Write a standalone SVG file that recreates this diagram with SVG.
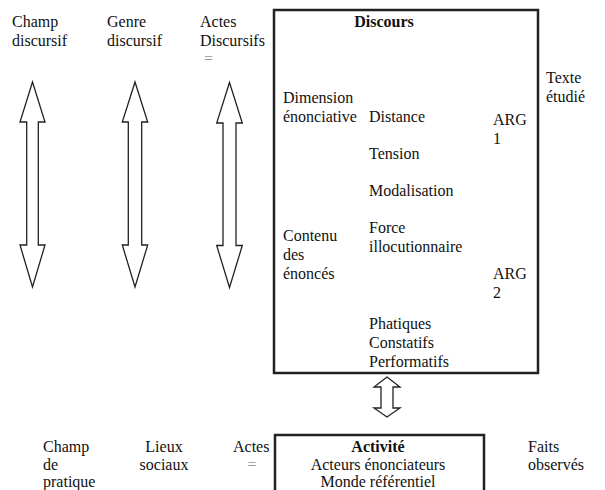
<svg xmlns="http://www.w3.org/2000/svg" width="605" height="490" viewBox="0 0 605 490" font-family="Liberation Serif, Times New Roman, serif" font-size="16">
<style>
text{fill:#111}
.b{font-weight:bold}
.m{text-anchor:middle}
.g{fill:#999}
.box{fill:none;stroke:#222;stroke-width:2.5}
.arr{fill:#fff;stroke:#222;stroke-width:1.3;stroke-linejoin:miter}
</style>
<rect width="605" height="490" fill="#fff"/>
<g id="labels-top">
<text x="12" y="27">Champ</text><text x="12" y="46">discursif</text>
<text x="107" y="27">Genre</text><text x="107" y="46">discursif</text>
<text x="200" y="27">Actes</text><text x="200" y="46">Discursifs</text><text x="204" y="64" class="g">=</text>
<text x="546" y="83">Texte</text><text x="546" y="102">étudié</text>
</g>
<g id="discours">
<rect class="box" x="274" y="10" width="264" height="363"/>
<text x="384" y="27" class="b m">Discours</text>
<text x="283" y="103">Dimension</text><text x="283" y="122">énonciative</text>
<text x="369" y="122">Distance</text>
<text x="493" y="125">ARG</text><text x="493" y="144">1</text>
<text x="369" y="159">Tension</text>
<text x="369" y="196">Modalisation</text>
<text x="369" y="233">Force</text><text x="369" y="252">illocutionnaire</text>
<text x="283" y="241">Contenu</text><text x="283" y="260">des</text><text x="283" y="279">énoncés</text>
<text x="493" y="279">ARG</text><text x="493" y="298">2</text>
<text x="369" y="329">Phatiques</text><text x="369" y="348">Constatifs</text><text x="369" y="367">Performatifs</text>
</g>
<g id="activite">
<rect class="box" x="275" y="435" width="209" height="70"/>
<text x="378" y="452" class="b m">Activité</text>
<text x="378" y="470" class="m">Acteurs énonciateurs</text>
<text x="378" y="487" class="m">Monde référentiel</text>
</g>
<g id="labels-bottom">
<text x="43" y="452">Champ</text><text x="43" y="470">de</text><text x="43" y="487">pratique</text>
<text x="164" y="452" class="m">Lieux</text><text x="164" y="470" class="m">sociaux</text>
<text x="233" y="452">Actes</text><text x="252" y="470" class="m g">=</text>
<text x="528" y="452">Faits</text><text x="528" y="470">observés</text>
</g>
<g id="connectors">
<path class="arr" d="M32.5,82 L45,122 L38.3,122 L38.3,245 L45,245 L32.5,287 L20,245 L26.7,245 L26.7,122 L20,122 Z"/>
<path class="arr" d="M135,82 L147.7,122 L141.7,122 L141.7,245 L147.7,245 L135,287 L122.3,245 L128.3,245 L128.3,122 L122.3,122 Z"/>
<path class="arr" d="M229.5,82.5 L242.3,123 L236,123 L236,245.5 L242.3,245.5 L229.5,287.5 L216.7,245.5 L223,245.5 L223,123 L216.7,123 Z"/>
<path class="arr" d="M387,377 L400,387 L393,387 L393,408 L400,408 L387,417 L374,408 L381,408 L381,387 L374,387 Z"/>
</g>
</svg>
